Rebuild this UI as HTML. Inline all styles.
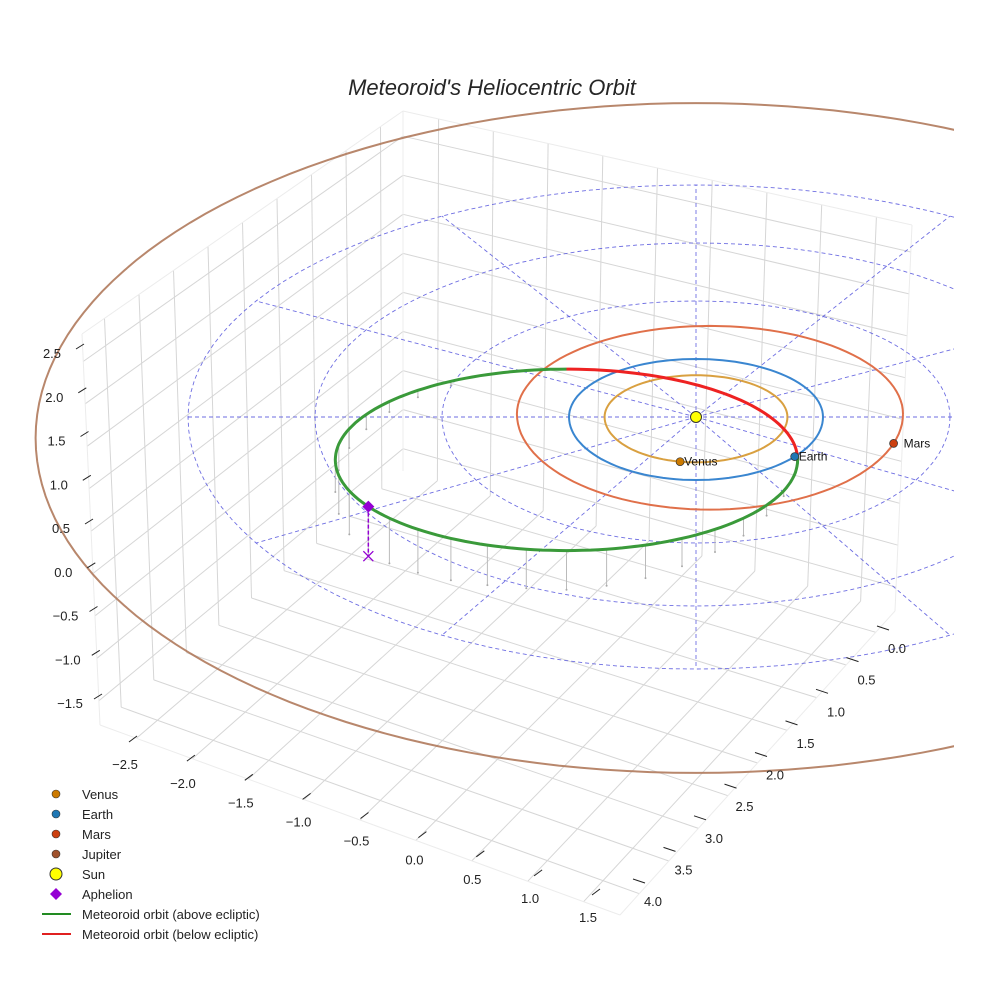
<!DOCTYPE html>
<html><head><meta charset="utf-8"><style>
html,body{margin:0;padding:0;background:#fff;}
svg{display:block;font-family:"Liberation Sans",sans-serif;}
</style></head><body>
<svg id="chart" width="984" height="984" viewBox="0 0 984 984" xmlns="http://www.w3.org/2000/svg">
<defs><clipPath id="plotclip"><rect x="0" y="60" width="954" height="924"/></clipPath></defs>
<text x="492" y="95" text-anchor="middle" font-size="22" font-style="italic" fill="#262626">Meteoroid's Heliocentric Orbit</text>
<g id="panes"></g>
<g id="plot" clip-path="url(#plotclip)"></g>
<g id="ticks"></g>
<g id="legend"></g>
</svg>
<script>
// ---- data ----
const xTickLabels = ["\u22122.5","\u22122.0","\u22121.5","\u22121.0","\u22120.5","0.0","0.5","1.0","1.5"];
const yTickLabels = ["0.0","0.5","1.0","1.5","2.0","2.5","3.0","3.5","4.0"];
const zTickLabels = ["2.5","2.0","1.5","1.0","0.5","0.0","\u22120.5","\u22121.0","\u22121.5"];
const planetNames = ["Venus","Earth","Mars"];
const planetA = [0.72, 1.0, 1.52];
const planetOffX = [0.0, 0.0, 0.11];
const planetOffY = [0.0, 0.0, -0.05];
const planetAngleDeg = [100, 39, 18];
const jupiterA = [5.2];
const gridRings = [1, 2, 3, 4];
const gridRadialDeg = [0,30,60,90,120,150,180,210,240,270,300,330];
// meteoroid orbit (in AU, ecliptic frame): center X, center Y, semi X, semi Y
const meteoroidEllipse = [-1.02, 0.68, 1.82, 1.44];
const belowStartDeg = [3];
const belowEndDeg = [90];
const aphelionDeg = [211];
const aphelionHeight = [0.57];
const dropAngles = [120,130,140,150,160,170,180,190,200,211,220,230,240,250,260,270,280,290,300,310,320,330,340];
const dropHeights = [0.05,0.08,0.12,0.17,0.22,0.30,0.37,0.44,0.50,0.57,0.52,0.50,0.48,0.46,0.45,0.45,0.42,0.38,0.32,0.26,0.2,0.12,0.06];

const NS="http://www.w3.org/2000/svg";
function mk(tag, attrs, parent){const e=document.createElementNS(NS,tag);for(const k in attrs)e.setAttribute(k,attrs[k]);parent.appendChild(e);return e;}
const panes=document.getElementById('panes'), plot=document.getElementById('plot'), ticks=document.getElementById('ticks'), legend=document.getElementById('legend');

// ---- box geometry ----
const Bk=[403,471], L=[100,725], F=[620,915], R=[895,611];
const BkT=[403,111], LT=[82,334], RT=[912,225];
function lerp(a,b,t){return [a[0]+(b[0]-a[0])*t,a[1]+(b[1]-a[1])*t];}
function bil(p00,p10,p01,p11,u,v){const a=lerp(p00,p10,u),b=lerp(p01,p11,u);return lerp(a,b,v);}
function tf(i){return 0.07+i/8*0.86;}
function zf(i){return 0.062+i/8*0.868;}
function line(p,q,stroke,w,parent,name){const e=mk('line',{x1:p[0].toFixed(1),y1:p[1].toFixed(1),x2:q[0].toFixed(1),y2:q[1].toFixed(1),stroke:stroke,'stroke-width':w},parent);return e;}
const gc="#d6d6d6";
for(let i=0;i<9;i++){
  const u=tf(i);
  line(bil(Bk,L,BkT,LT,u,0),bil(Bk,L,BkT,LT,u,1),gc,1,panes,'left-wall-gridline');
  line(bil(Bk,R,BkT,RT,u,0),bil(Bk,R,BkT,RT,u,1),gc,1,panes,'back-wall-gridline');
  const v=zf(i);
  line(bil(Bk,L,BkT,LT,0,v),bil(Bk,L,BkT,LT,1,v),gc,1,panes,'left-wall-gridline');
  line(bil(Bk,R,BkT,RT,0,v),bil(Bk,R,BkT,RT,1,v),gc,1,panes,'back-wall-gridline');
  line(bil(Bk,R,L,F,u,0),bil(Bk,R,L,F,u,1),gc,1,panes,'floor-gridline');
  line(bil(Bk,R,L,F,0,u),bil(Bk,R,L,F,1,u),gc,1,panes,'floor-gridline');
}
const ec="#ececec";
line(L,LT,ec,1,panes,'pane-edge');line(Bk,BkT,ec,1,panes,'pane-edge');line(R,RT,ec,1,panes,'pane-edge');
line(LT,BkT,ec,1,panes,'pane-edge');line(BkT,RT,ec,1,panes,'pane-edge');
line(L,F,ec,1,panes,'pane-edge');line(F,R,ec,1,panes,'pane-edge');

// ---- projection of ecliptic plane ----
const SX=696, SY=417;
function P(X,Y,Z){Z=Z||0;return [SX+127*X, SY+(Y<0?58:63)*Y-87*Z];}
function polyPts(arr){return arr.map(p=>p[0].toFixed(1)+','+p[1].toFixed(1)).join(' ');}
function ringPts(r,ox,oy){ox=ox||0;oy=oy||0;const a=[];for(let d=0;d<=360;d+=3){const t=d*Math.PI/180;a.push(P(ox+r*Math.cos(t),oy+r*Math.sin(t)));}return a;}

gridRings.forEach(r=>{const e=mk('polyline',{points:polyPts(ringPts(r)),fill:'none',stroke:'#5555dd','stroke-width':0.9,'stroke-dasharray':'4,3',opacity:0.85},plot);
});
const rMax=Math.max(...gridRings);
gridRadialDeg.forEach(d=>{const t=d*Math.PI/180;const pts=[];for(let k=0;k<=20;k++){const r=rMax*k/20;pts.push(P(r*Math.cos(t),r*Math.sin(t)));}
const e=mk('polyline',{points:polyPts(pts),fill:'none',stroke:'#5555dd','stroke-width':0.9,'stroke-dasharray':'4,3',opacity:0.85},plot);
});

(function(){const a=jupiterA[0];const pts=[];for(let d=0;d<=360;d+=2){const t=d*Math.PI/180;pts.push([SX+127*a*Math.cos(t), SY+21+64.4*a*Math.sin(t)]);}
const e=mk('polyline',{points:polyPts(pts),fill:'none',stroke:'#b07a5c','stroke-width':2,opacity:0.9},plot);
})();

const orbitColors=["#d9a040","#3a86d0","#e0704a"];
planetA.forEach((a,i)=>{const e=mk('polyline',{points:polyPts(ringPts(a,planetOffX[i],planetOffY[i])),fill:'none',stroke:orbitColors[i],'stroke-width':2},plot);
});

const [mcx,mcy,max,may]=meteoroidEllipse;
function MF(d){const t=d*Math.PI/180;return [SX+127*(mcx+max*Math.cos(t)), SY+63*(mcy-may*Math.sin(t))];}
dropAngles.forEach((d,i)=>{const top=MF(d);const bot=[top[0],top[1]+87*dropHeights[i]];
line(top,bot,'#bbbbbb',1,plot,'drop-line');
const c=mk('circle',{cx:bot[0].toFixed(1),cy:bot[1].toFixed(1),r:1,fill:'#aaaaaa'},plot);
});
(function(){const g=[],r=[];for(let d=belowEndDeg[0];d<360+belowStartDeg[0];d+=2)g.push(MF(d));g.push(MF(360+belowStartDeg[0]));
for(let d=belowStartDeg[0];d<belowEndDeg[0];d+=2)r.push(MF(d));r.push(MF(belowEndDeg[0]));
const e1=mk('polyline',{points:polyPts(g),fill:'none',stroke:'#3a9a3a','stroke-width':3},plot);

const e2=mk('polyline',{points:polyPts(r),fill:'none',stroke:'#ee2222','stroke-width':3},plot);
})();
(function(){const p=MF(aphelionDeg[0]);const q=[p[0],p[1]+87*aphelionHeight[0]];
const l=mk('line',{x1:p[0],y1:p[1],x2:q[0],y2:q[1],stroke:'#9400d3','stroke-width':1.5,'stroke-dasharray':'4,2'},plot);

const x=mk('path',{d:`M${q[0]-5},${q[1]-5}L${q[0]+5},${q[1]+5}M${q[0]-5},${q[1]+5}L${q[0]+5},${q[1]-5}`,stroke:'#9400d3','stroke-width':1.3,fill:'none'},plot);

const dm=mk('path',{d:`M${p[0]},${p[1]-6}L${p[0]+6},${p[1]}L${p[0]},${p[1]+6}L${p[0]-6},${p[1]}Z`,fill:'#9400d3'},plot);
})();

const planetColors=["#cc7a00","#1f77b4","#cc4010"];
planetA.forEach((a,i)=>{const t=planetAngleDeg[i]*Math.PI/180;const p=P(planetOffX[i]+a*Math.cos(t),planetOffY[i]+a*Math.sin(t));
const c=mk('circle',{cx:p[0].toFixed(1),cy:p[1].toFixed(1),r:4,fill:planetColors[i],stroke:'#333','stroke-width':0.7},plot);

const tx=mk('text',{x:(p[0]+(i==2?10:4)).toFixed(1),y:(p[1]+4).toFixed(1),'font-size':12,fill:'#111'},plot);tx.textContent=planetNames[i];
});
(function(){const s=mk('circle',{cx:SX,cy:SY,r:5.5,fill:'#ffff00',stroke:'#333','stroke-width':1},plot);
})();

function tickSet(labels,l0,l1,markOff,markDir,name,anchor){
  labels.forEach((s,i)=>{const p=lerp(l0,l1,i/(labels.length-1));
    const m0=[p[0]+markOff[0],p[1]+markOff[1]],m1=[m0[0]+markDir[0],m0[1]+markDir[1]];
    line(m0,m1,'#222',1,ticks,name+'-tick');
    const t=mk('text',{x:p[0].toFixed(1),y:(p[1]+5).toFixed(1),'font-size':13,fill:'#222','text-anchor':anchor},ticks);t.textContent=s;
    });
}
tickSet(xTickLabels,[125,764],[588,917],[4,-22],[8,-6],'x-axis','middle');
tickSet(yTickLabels,[897,648],[653,901],[-20,-22],[12,4],'y-axis','middle');
tickSet(zTickLabels,[52,353],[70,703],[24,-4],[8,-5],'z-axis','middle');

const legendLabels=["Venus","Earth","Mars","Jupiter","Sun","Aphelion","Meteoroid orbit (above ecliptic)","Meteoroid orbit (below ecliptic)"];
const legendColors=["#cc7a00","#1f77b4","#cc4010","#a0522d","#ffff00","#9400d3","#228b22","#e02020"];
legendLabels.forEach((s,i)=>{const y=794+i*20;
  let m;
  if(i<4){m=mk('circle',{cx:56,cy:y,r:4,fill:legendColors[i],stroke:'#333','stroke-width':0.6},legend);}
  else if(i==4){m=mk('circle',{cx:56,cy:y,r:6,fill:legendColors[i],stroke:'#333','stroke-width':1},legend);}
  else if(i==5){m=mk('path',{d:`M56,${y-6}L62,${y}L56,${y+6}L50,${y}Z`,fill:legendColors[i]},legend);}
  else {m=mk('line',{x1:42,y1:y,x2:71,y2:y,stroke:legendColors[i],'stroke-width':2},legend);}
  
  const t=mk('text',{x:82,y:y+5,'font-size':13,fill:'#222'},legend);t.textContent=s;
  
});
</script>
</body></html>
